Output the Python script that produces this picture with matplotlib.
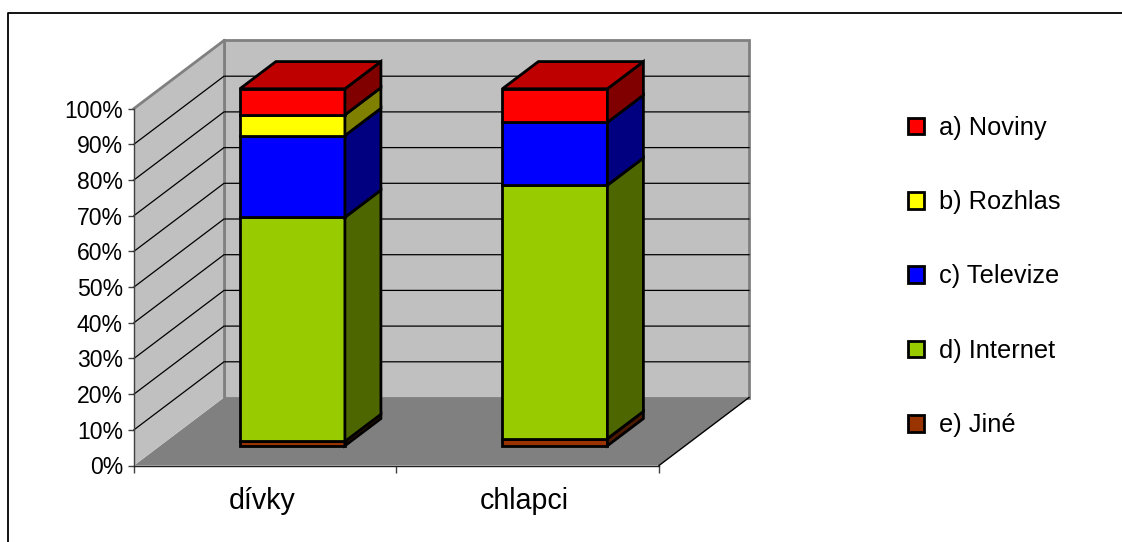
import numpy as np
from matplotlib import pyplot as plt
from matplotlib.colors import to_rgb
from matplotlib.lines import Line2D
from matplotlib.patches import Patch, Polygon

plt.rcParams['font.family'] = ['Liberation Sans', 'DejaVu Sans']

groups = ['dívky', 'chlapci']
labels = ['a) Noviny', 'b) Rozhlas', 'c) Televize', 'd) Internet', 'e) Jiné']
# stacked shares in percent, bottom segment first
jine = [1.2, 2.0]
internet = [62.8, 71.0]
televize = [22.9, 17.6]
rozhlas = [5.8, 0.0]
noviny = [7.3, 9.4]
front_colors = ['#FF0000', '#FFFF00', '#0000FF', '#99CC00', '#993300']
yticks = np.arange(0, 101, 10)

W, H = 1122, 542
# oblique depth: full floor depth expressed in data units
DEPTH_X = 90/262.5
DEPTH_Y = 68/357*100
BAR_WIDTH = 0.4
BAR_CENTER = 0.504
BAR_Z0, BAR_Z1 = 0.29, 0.69
LABEL_CENTER = 0.487

def project(x, y, z=0.0):
    return (x + z*DEPTH_X, y + z*DEPTH_Y)

def shade(color, factor):
    return tuple(np.array(to_rgb(color))*factor)

def face(ax, pts, color, edge='black', lw=2.0, zorder=3):
    ax.add_patch(Polygon([project(*p) for p in pts], closed=True, facecolor=color,
                         edgecolor=edge, linewidth=lw, joinstyle='miter',
                         clip_on=False, zorder=zorder))

fig = plt.figure(figsize=(W/100, H/100), dpi=100)
ax = fig.add_axes([134/W, 1 - 465.5/H, 525/W, 357/H])
ax.set_xlim(0, 2)
ax.set_ylim(0, 100)
ax.patch.set_visible(False)
for side in ['top', 'right']:
    ax.spines[side].set_visible(False)
ax.spines['left'].set_color('#404040')
ax.spines['bottom'].set_color('#202020')
ax.spines['left'].set_linewidth(1.0)
ax.spines['bottom'].set_linewidth(1.0)

# walls and floor
face(ax, [(0, 0, 0), (2, 0, 0), (2, 0, 1), (0, 0, 1)], '#808080', edge='none', lw=0, zorder=1)
face(ax, [(0, 0, 1), (2, 0, 1), (2, 100, 1), (0, 100, 1)], '#C0C0C0', edge='#808080', lw=2.0, zorder=1)
face(ax, [(0, 0, 0), (0, 0, 1), (0, 100, 1), (0, 100, 0)], '#C0C0C0', edge='none', lw=0, zorder=1)
for a, b, col in [((0, 100, 0), (0, 100, 1), '#808080'), ((0, 0, 1), (0, 100, 1), '#808080'),
                  ((2, 0, 0), (2, 0, 1), 'black')]:
    xs, ys = zip(project(*a), project(*b))
    ax.plot(xs, ys, color=col, lw=2.0 if col != 'black' else 1.0, clip_on=False, zorder=1.5)

# gridlines run along the side wall and across the back wall
for v in yticks[1:-1]:
    xs, ys = zip(project(0, v, 0), project(0, v, 1), project(2, v, 1))
    ax.plot(xs, ys, color='black', lw=0.9, clip_on=False, zorder=2)

stack = [jine, internet, televize, rozhlas, noviny]
stack_colors = front_colors[::-1]
for g in range(len(groups)):
    x0 = g + BAR_CENTER - BAR_WIDTH/2
    x1 = g + BAR_CENTER + BAR_WIDTH/2
    bottom = 0.0
    for values, color in zip(stack, stack_colors):
        v = values[g]
        if v == 0:
            continue
        top = bottom + v
        face(ax, [(x0, bottom, BAR_Z0), (x1, bottom, BAR_Z0), (x1, top, BAR_Z0), (x0, top, BAR_Z0)], color)
        face(ax, [(x1, bottom, BAR_Z0), (x1, bottom, BAR_Z1), (x1, top, BAR_Z1), (x1, top, BAR_Z0)], shade(color, 0.5))
        bottom = top
    face(ax, [(x0, bottom, BAR_Z0), (x1, bottom, BAR_Z0), (x1, bottom, BAR_Z1), (x0, bottom, BAR_Z1)],
         shade(stack_colors[-1], 0.75))

ax.set_yticks(yticks)
ax.set_yticklabels(['%d%%' % v for v in yticks], fontsize=16.6)
ax.set_xticks([0, 1, 2])
ax.set_xticklabels([])
ax.set_xticks([LABEL_CENTER, 1 + LABEL_CENTER], minor=True)
ax.set_xticklabels(groups, minor=True, fontsize=20.6)
ax.tick_params(axis='x', which='major', length=5, width=1.0, color='#404040')
ax.tick_params(axis='x', which='minor', length=0, pad=15.5)
ax.tick_params(axis='y', length=4, width=1.0, color='#404040', pad=4)

handles = [Patch(facecolor=c, edgecolor='black', linewidth=2.0) for c in front_colors]
fig.legend(handles, labels, loc='center left', bbox_to_anchor=(900.5/W, 1 - 276.5/H),
           frameon=False, fontsize=18.3, handlelength=0.63, handleheight=0.63,
           handletextpad=0.58, labelspacing=1.98, borderpad=0, borderaxespad=0.3)

# chart frame shows only its top and left edges
fig.add_artist(Line2D([8/W, 8/W, 1], [0, 1 - 13/H, 1 - 13/H], color='black', lw=1.3))

fig.savefig('out.png', dpi=100)
